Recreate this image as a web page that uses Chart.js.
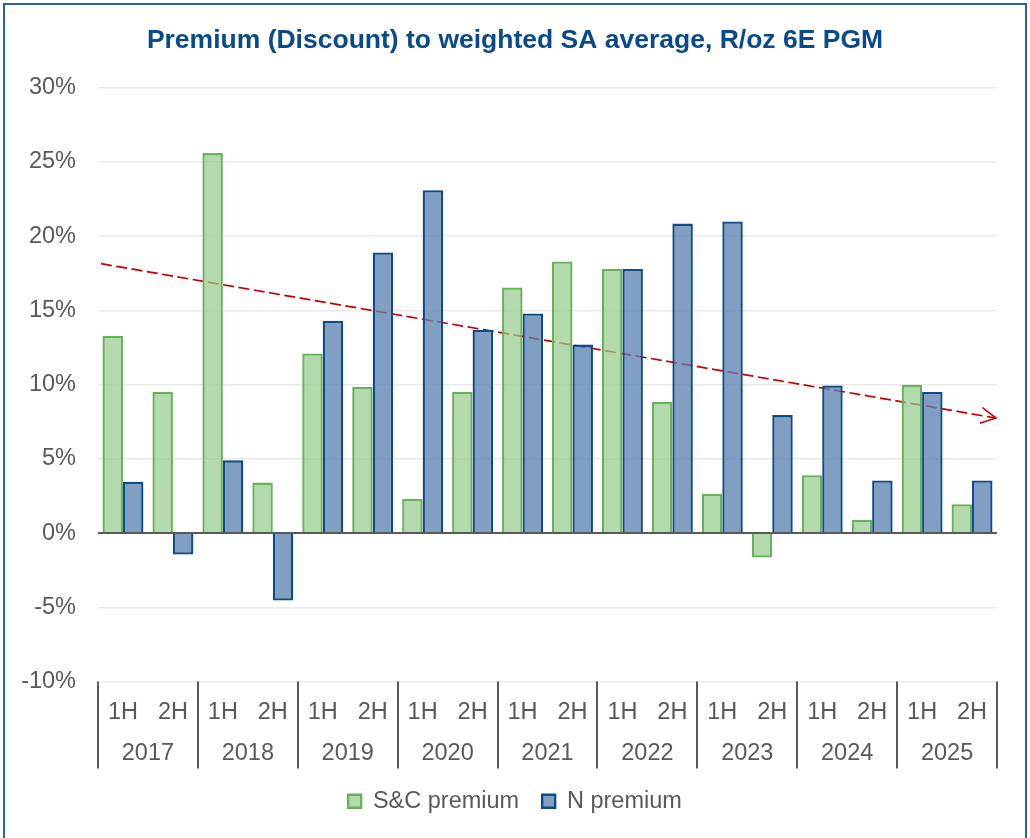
<!DOCTYPE html>
<html>
<head>
<meta charset="utf-8">
<script src="https://cdn.jsdelivr.net/npm/chart.js@4.4.1/dist/chart.umd.min.js"></script>
<style>
    html, body { margin: 0; padding: 0; background: #fff; }
    #wrap { position: absolute; left: 0; top: 0; width: 1030px; height: 838px; }
    #frame { position: absolute; left: 3px; top: 3px; width: 1020px; height: 860px; border: 2px solid #2f5f9c; pointer-events: none; }
</style>
</head>
<body>
<div id="wrap"><canvas id="premiumChart" width="1030" height="838"></canvas></div>
<div id="frame"></div>
<script>
// --- Data ---
const halves = ['1H', '2H', '1H', '2H', '1H', '2H', '1H', '2H', '1H', '2H', '1H', '2H', '1H', '2H', '1H', '2H', '1H', '2H'];
const years = ['2017', '2018', '2019', '2020', '2021', '2022', '2023', '2024', '2025'];
const scPremium = [13.3, 9.5, 25.6, 3.4, 12.1, 9.85, 2.3, 9.5, 16.55, 18.3, 17.8, 8.85, 2.65, -1.65, 3.9, 0.9, 10.0, 1.95];
const nPremium = [3.45, -1.45, 4.9, -4.55, 14.3, 18.9, 23.1, 13.7, 14.8, 12.7, 17.8, 20.85, 21.0, 7.95, 9.95, 3.55, 9.5, 3.55];
// trend arrow: [start, end] as (half-year position, value)
const trendX = [-0.44, 17.48];
const trendY = [18.15, 7.75];

const yTicks = { min: -10, max: 30, step: 5 };

const axisGrey = '#595959';
const trendRed = '#c80000';
const fontFamily = '"Liberation Sans", Arial, sans-serif';
const tickSize = 23.5;

// bars sit on a linear x axis (one unit per half year) so the trend line can share it
const toPoints = arr => arr.map((v, i) => ({ x: i, y: v }));

// --- Plugin: year separators under the x axis ---
const yearSeparators = {
    id: 'yearSeparators',
    afterDraw(chart) {
        const x = chart.scales.x;
        const yr = chart.scales.xYear;
        const ctx = chart.ctx;
        ctx.save();
        ctx.strokeStyle = axisGrey;
        ctx.lineWidth = 2;
        for (let i = 0; i <= years.length; i++) {
            const px = Math.round(x.getPixelForValue(i * 2 - 0.5));
            ctx.beginPath();
            ctx.moveTo(px, chart.chartArea.bottom);
            ctx.lineTo(px, yr.bottom + 2);
            ctx.stroke();
        }
        ctx.restore();
    }
};

// --- Plugin: open arrow head at the end of the trend line ---
const trendArrow = {
    id: 'trendArrow',
    afterDatasetsDraw(chart) {
        const meta = chart.getDatasetMeta(2);
        if (!meta || meta.data.length < 2) return;
        const p0 = meta.data[0];
        const p1 = meta.data[meta.data.length - 1];
        const ang = Math.atan2(p1.y - p0.y, p1.x - p0.x);
        const len = 17;
        const spread = Math.PI / 6.5;
        const ctx = chart.ctx;
        ctx.save();
        ctx.strokeStyle = trendRed;
        ctx.lineWidth = 1.5;
        ctx.beginPath();
        ctx.moveTo(p1.x - len * Math.cos(ang - spread), p1.y - len * Math.sin(ang - spread));
        ctx.lineTo(p1.x, p1.y);
        ctx.lineTo(p1.x - len * Math.cos(ang + spread), p1.y - len * Math.sin(ang + spread));
        ctx.stroke();
        ctx.restore();
    }
};

const ctx = document.getElementById('premiumChart').getContext('2d');
new Chart(ctx, {
    type: 'bar',
    data: {
        datasets: [
            {
                label: 'S&C premium',
                data: toPoints(scPremium),
                backgroundColor: 'rgba(150, 204, 140, 0.72)',
                borderColor: '#68b05a',
                borderWidth: 2.3,
                categoryPercentage: 0.82,
                barPercentage: 1.0
            },
            {
                label: 'N premium',
                data: toPoints(nPremium),
                backgroundColor: 'rgba(92, 132, 178, 0.78)',
                borderColor: '#0d4a8a',
                borderWidth: 2.3,
                categoryPercentage: 0.82,
                barPercentage: 1.0
            },
            {
                type: 'line',
                label: 'trend',
                data: trendX.map((v, i) => ({ x: v, y: trendY[i] })),
                borderColor: trendRed,
                borderWidth: 1.7,
                borderDash: [11, 4.5],
                pointRadius: 0,
                fill: false
            }
        ]
    },
    options: {
        responsive: false,
        animation: false,
        layout: { padding: { left: 10, right: 10, top: 18, bottom: 15 } },
        plugins: {
            title: {
                display: true,
                text: 'Premium (Discount) to weighted SA average, R/oz 6E PGM',
                color: '#0a4a8c',
                font: { family: fontFamily, size: 26.5, weight: 'bold' },
                padding: { top: 7, bottom: 31 }
            },
            legend: {
                position: 'bottom',
                labels: {
                    color: axisGrey,
                    font: { family: fontFamily, size: tickSize },
                    boxWidth: 13,
                    boxHeight: 13,
                    padding: 23,
                    filter: item => item.datasetIndex < 2
                }
            },
            tooltip: { enabled: false }
        },
        scales: {
            y: {
                min: yTicks.min,
                max: yTicks.max,
                ticks: {
                    stepSize: yTicks.step,
                    color: axisGrey,
                    font: { family: fontFamily, size: tickSize },
                    padding: 22,
                    callback: v => v + '%'
                },
                grid: {
                    color: c => c.tick && c.tick.value === 0 ? axisGrey : '#e9e9e9',
                    lineWidth: c => c.tick && c.tick.value === 0 ? 2 : 1.5,
                    drawTicks: false
                },
                border: { display: false },
                afterFit: scale => { scale.width = 88; }
            },
            // empty right margin so the title and legend centre on the page
            yRight: {
                position: 'right',
                grid: { display: false, drawTicks: false },
                border: { display: false },
                ticks: { display: false },
                afterFit: scale => { scale.width = 23; }
            },
            x: {
                type: 'linear',
                position: 'bottom',
                offset: false,
                min: -0.5,
                max: halves.length - 0.5,
                grid: { display: false, drawTicks: false },
                border: { display: false },
                afterBuildTicks: scale => { scale.ticks = halves.map((_, i) => ({ value: i })); },
                ticks: {
                    color: axisGrey,
                    font: { family: fontFamily, size: tickSize },
                    padding: 16.5,
                    maxRotation: 0,
                    autoSkip: false,
                    callback: v => halves[v]
                },
                afterFit: scale => { scale.height = 43; }
            },
            xYear: {
                type: 'category',
                position: 'bottom',
                labels: years,
                grid: { display: false, drawTicks: false },
                border: { display: false },
                ticks: {
                    color: axisGrey,
                    font: { family: fontFamily, size: tickSize },
                    padding: 14.5,
                    maxRotation: 0,
                    autoSkip: false
                },
                afterFit: scale => { scale.height = 42; }
            }
        }
    },
    plugins: [yearSeparators, trendArrow]
});
</script>
</body>
</html>
